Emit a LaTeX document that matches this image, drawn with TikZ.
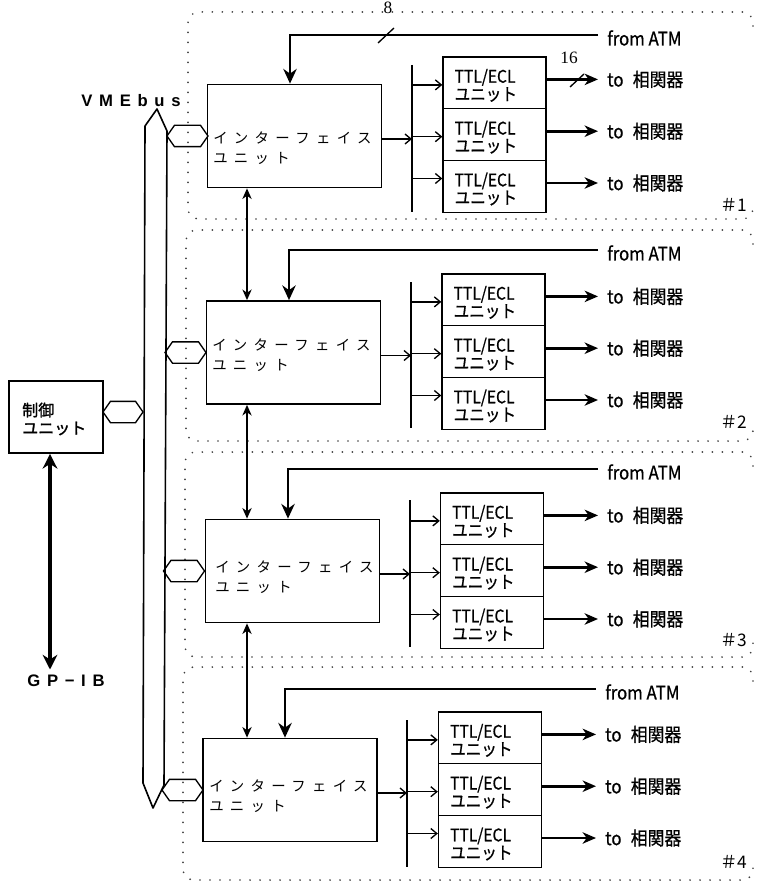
\documentclass[tikz,border=0pt]{standalone}
\usepackage{fontspec}
\setmainfont{Liberation Sans}
\newfontfamily\jpwide[LetterSpace=44]{Noto Sans CJK JP}
\newfontfamily\jpc[FakeStretch=0.9,FakeBold=0.8]{Noto Sans CJK JP}
\newfontfamily\jpn{Noto Sans CJK JP}
\newfontfamily\jpb[FakeBold=1.5]{Noto Sans CJK JP}
\newfontfamily\widesans[LetterSpace=40]{Liberation Sans}
\newfontfamily\serifnum{Liberation Serif}
\usetikzlibrary{arrows.meta,shapes.symbols,calc}
\begin{document}
\begin{tikzpicture}[x=0.75pt,y=-0.75pt,
 box/.style={draw,line width=1.3pt,minimum width=130.5pt,minimum height=77.25pt,inner sep=0pt},
 unitbox/.style={draw,line width=1pt,minimum width=77.25pt,minimum height=38.85pt,inner sep=0pt},
 hexnode/.style={draw,line width=1pt,shape=signal,signal to=west and east,signal pointer angle=110,minimum width=30.75pt,minimum height=16pt,inner sep=0pt},
 grp/.style={line width=1.4pt,line cap=round,dash pattern=on 0pt off 7.5pt,rounded corners=8pt,black!75},
 iftext/.style={anchor=west,align=left,inner sep=0pt,font=\jpwide\fontsize{10.8pt}{15pt}\selectfont},
 unittext/.style={anchor=west,align=left,inner sep=0pt,font=\jpc\fontsize{13pt}{11.5pt}\selectfont},
 outtext/.style={anchor=west,inner xsep=6.75pt,inner ysep=0pt,font=\jpc\fontsize{14pt}{14pt}\selectfont},
 numlabel/.style={inner sep=0pt,font=\jpn\fontsize{13pt}{13pt}\selectfont},
 atmarrow/.style={line width=2.2pt,-{Stealth[length=11pt,width=10pt,inset=3.5pt]}},
 outarrow/.style={line width=2pt,-{Stealth[length=10pt,width=8.5pt,inset=3pt]}},
 ctrlarrow/.style={line width=3pt,{Stealth[length=11pt,width=11pt,inset=3.5pt]}-{Stealth[length=11pt,width=11pt,inset=3.5pt]}},
 thinarrow/.style={line width=1pt,{Stealth[length=8pt,width=7pt,inset=2.5pt]}-{Stealth[length=8pt,width=7pt,inset=2.5pt]}},
 distarrow/.style={line width=1pt,-{Straight Barb[length=4.5pt,width=7.5pt]}},
 distline/.style={line width=1.6pt},
 busline/.style={line width=1.2pt,line join=round}
]
\useasboundingbox (0,0) rectangle (756,884);

\foreach \g/\bx/\by/\tx/\ty/\hx/\ux/\ut/\dx/\dt/\db/\ay/\ax/\atx/\ya/\yb/\lft/\ny in {
1/294.5/136/213/148/187.5/494.5/57/412/65/212/35/290/598/12/219/188/205,
2/293.5/352.5/212/355.5/185.5/493.5/274/411/282/428/250/289/598/230/441/186/422,
3/292.5/571/215/577/184/492/493/410/500/647/469/288/598/452/657/185/640,
4/290/790/209/796/182.5/490/712/407/720/867/689/285/596/667/880/183/862}
{
 \draw[grp] (753,\ya+14) -- (753,\ya) -- (\lft,\ya) -- (\lft,\yb) -- (753,\yb) -- (753,\yb-14);
 \node[box] (if\g) at (\bx,\by) {};
 \node[iftext] (ift\g) at (\tx,\ty) {インターフェイス\\ユニット};
 \node[hexnode] (hex\g) at (\hx,\by) {};
 \coordinate (dtop\g) at (\dx,\dt);
 \coordinate (dbot\g) at (\dx,\db);
 \draw[distline] (dtop\g) -- (dbot\g);
 \coordinate (ie\g) at ($(if\g.east)+(0,3)$);
 \draw[distarrow] (ie\g) -- (ie\g -| dtop\g);
 \foreach \k/\off/\doff in {1/25.9/2,2/77.7/2,3/129.5/-8}{
   \node[unitbox] (u\g-\k) at (\ux,\ut+\off) {};
   \node[unittext] (ut\g-\k) at ($(u\g-\k.west)+(12,2.5)$) {TTL/ECL\\ユニット};
   \coordinate (a\g-\k) at ($(u\g-\k.west)+(0,\doff)$);
   \draw[distarrow] (dtop\g |- a\g-\k) -- (a\g-\k);
   \node[outtext] (o\g-\k) at (\atx,\ut+\off-3.5) {to\hspace{0.5em}相関器};
   \draw[outarrow] (u\g-\k.east |- o\g-\k.west) -- (o\g-\k.west);
 }
 \node[outtext] (atm\g) at (\atx,\ay+3) {from ATM};
 \coordinate (ac\g) at (\ax,\ay);
 \draw[atmarrow] (atm\g.west |- ac\g) -- (ac\g) -- (ac\g |- if\g.north);
 \node[numlabel] (n\g) at (734,\ny) {＃\g};
}

% vertical links between interface units
\coordinate (vx) at (247,0);
\foreach \a/\b in {1/2,2/3,3/4}
  \draw[thinarrow] (if\a.south -| vx) -- (if\b.north -| vx);

% VME bus
\coordinate (bt) at (157,109);
\coordinate (bb) at (153,808);
\draw[busline] (bt) -- (167,131) -- (164,785) -- (bb) -- (143,783) -- (145,126) -- cycle;
\node[inner sep=0pt,font=\widesans\bfseries\fontsize{12.5pt}{12.5pt}\selectfont] (vme) at (131,101) {VMEbus};

% control unit
\node[draw,line width=1.3pt,minimum width=70.5pt,minimum height=54pt,inner sep=0pt] (ctrl) at (56,417) {};
\node[anchor=west,align=left,inner sep=0pt,font=\jpb\fontsize{12pt}{13.5pt}\selectfont] (ctrlt) at (22,419) {制御\\ユニット};
\node[hexnode,minimum width=30pt] (chex) at (123,412) {};
\node[inner xsep=0pt,inner ysep=4pt,font=\widesans\bfseries\fontsize{12.5pt}{12.5pt}\selectfont] (gp) at (66,681) {GP−IB};
\coordinate (gx) at (50,0);
\draw[ctrlarrow] (ctrl.south -| gx) -- (gp.north -| gx);

% bit-width labels
\node[inner sep=0pt,font=\serifnum\fontsize{13pt}{13pt}\selectfont] (w8) at (388,8) {8};
\draw[line width=1pt] (378,43) -- (394,28);
\node[inner sep=0pt,font=\serifnum\fontsize{13pt}{13pt}\selectfont] (w16) at (569,58) {16};
\draw[line width=1pt] (570,87) -- (584,74);
\end{tikzpicture}
\end{document}
